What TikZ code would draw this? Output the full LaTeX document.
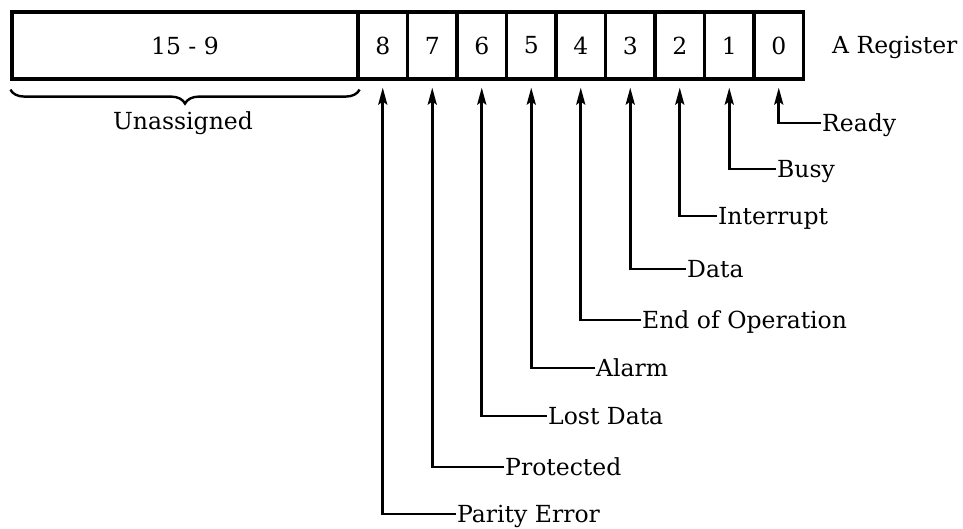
\documentclass[tikz,border=0pt]{standalone}
\usepackage{fontspec}
\setmainfont{DejaVu Serif}
\usetikzlibrary{arrows.meta,decorations.pathreplacing}
\newcommand{\fs}{\fontsize{23.5}{28}\selectfont}
\begin{document}
\begin{tikzpicture}[x=1pt,y=-1pt,
  cell/.style={draw, line width=3.2pt, minimum height=67pt, minimum width=49.5pt, inner sep=0pt, font=\fs},
  lab/.style={anchor=west, inner sep=1pt, text height=17pt, text depth=0pt, font=\fs},
  conn/.style={line width=2.6pt, -{Stealth[length=17pt,width=9pt,inset=3pt]}}]
\useasboundingbox (0,0) rectangle (963,529);
\node[cell, minimum width=346pt] (hi) at (185,45.5) {15 - 9};
\foreach \b [count=\k from 0] in {8,7,6,5,4,3,2,1,0}
  \node[cell] (c\b) at ({382.75+49.5*\k},45.5) {\b};
\node[lab] (areg) at (831,45.5) {A Register};
\draw[decorate, decoration={brace, amplitude=14pt, mirror}, line width=2.4pt]
  ([yshift=-9pt]hi.south west) -- ([yshift=-9pt]hi.south east);
\node[lab, anchor=center] (un) at (183,121) {Unassigned};
\foreach \b/\t/\x/\y in {0/Ready/822/123, 1/Busy/777/169, 2/Interrupt/718/216,
   3/Data/687/269, 4/End of Operation/642/320, 5/Alarm/596/368,
   6/Lost Data/548/416, 7/Protected/505/467, 8/Parity Error/457/514}
{
  \node[lab] (l\b) at (\x-1,\y) {\t};
  \draw[conn] (l\b.west) -| ([yshift=-7pt]c\b.south);
}
\end{tikzpicture}
\end{document}
